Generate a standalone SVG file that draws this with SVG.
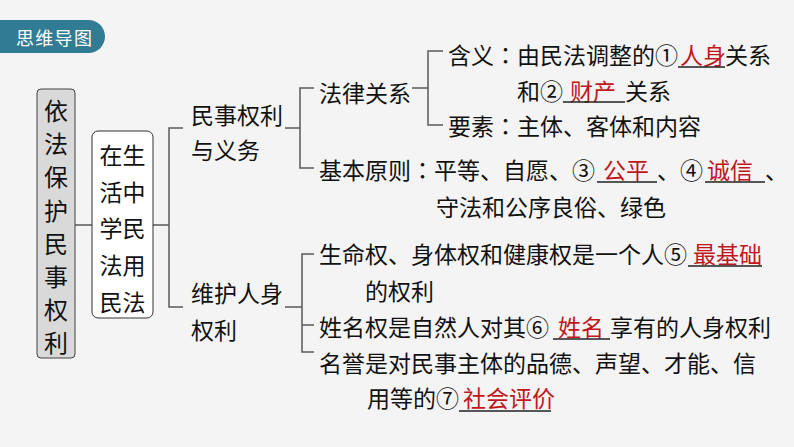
<svg xmlns="http://www.w3.org/2000/svg" width="794" height="447" viewBox="0 0 794 447">
<style>
text{font-family:"Noto Sans CJK SC","Noto Sans",sans-serif;font-size:23px;fill:#111}
.red{fill:#c0161e}
.col{font-family:"Noto Sans CJK TC","Noto Sans CJK SC",sans-serif}
.ul{stroke:#222;stroke-width:1.3;fill:none}
.conn{stroke:#5a5a5a;stroke-width:1.5;fill:none}
.big{font-size:24px}
</style>
<rect x="0" y="0" width="794" height="447" fill="#f4f4f4"/>
<g id="badge">
<path d="M0 20 H88.5 A16.5 16.5 0 0 1 88.5 53 H0 Z" fill="#317c94"/>
<text x="16" y="45" style="font-size:18px;fill:#fff;letter-spacing:1.3px">思维导图</text>
</g>
<g id="connectors" class="conn">
<path d="M75 225 H92"/>
<path d="M153 225 H169"/>
<path d="M183 128 H169 V307 H183"/>
<path d="M285 128 H300"/>
<path d="M314 88 H300 V168 H314"/>
<path d="M412 88 H428"/>
<path d="M443 51 H428 V125 H443"/>
<path d="M285 307 H302"/>
<path d="M314 254 H302 V352 H314"/>
<path d="M302 325 H314"/>
</g>
<g id="root">
<rect x="37" y="89" width="38" height="269" rx="4" fill="#d9d9d9" stroke="#404040" stroke-width="1"/>
<g text-anchor="middle">
<text x="56" y="120" class="big">依</text>
<text x="56" y="153.2" class="big">法</text>
<text x="56" y="186.4" class="big">保</text>
<text x="56" y="219.6" class="big">护</text>
<text x="56" y="252.8" class="big">民</text>
<text x="56" y="286" class="big">事</text>
<text x="56" y="319.2" class="big">权</text>
<text x="56" y="352.4" class="big">利</text>
</g>
</g>
<g id="life">
<rect x="92" y="131" width="61" height="187" rx="6" fill="#fff" stroke="#333" stroke-width="1"/>
<g text-anchor="middle">
<text x="122.5" y="163.7">在生</text>
<text x="122.5" y="200.5">活中</text>
<text x="122.5" y="237.2">学民</text>
<text x="122.5" y="274">法用</text>
<text x="122.5" y="310.7">民法</text>
</g>
</g>
<g id="civil-rights">
<text x="191" y="123.5">民事权利</text>
<text x="191" y="158.5">与义务</text>
</g>
<g id="personal-rights">
<text x="191" y="301.5">维护人身</text>
<text x="191" y="338.5">权利</text>
</g>
<g id="legal-relation">
<text x="319" y="101.5">法律关系</text>
</g>
<g id="meaning">
<text x="448" y="63.5">含义<tspan class="col">：</tspan>由民法调整的①</text>
<text x="680" y="63.5" class="red">人身</text>
<path class="ul" d="M678 67 H725"/>
<text x="725" y="63.5">关系</text>
<text x="517" y="99.5">和②</text>
<text x="570" y="99.5" class="red">财产</text>
<path class="ul" d="M563 102 H625"/>
<text x="625" y="99.5">关系</text>
</g>
<g id="elements">
<text x="448" y="134.5">要素<tspan class="col">：</tspan>主体、客体和内容</text>
</g>
<g id="principles">
<text x="319" y="178.5">基本原则<tspan class="col">：</tspan>平等、自愿、③</text>
<text x="603" y="178.5" class="red">公平</text>
<path class="ul" d="M597 182 H657"/>
<text x="657" y="178.5">、④</text>
<text x="707" y="178.5" class="red">诚信</text>
<path class="ul" d="M705 182 H765"/>
<text x="765" y="178.5">、</text>
<text x="436" y="215.5">守法和公序良俗、绿色</text>
</g>
<g id="life-right">
<text x="319" y="262.5">生命权、身体权和健康权是一个人⑤</text>
<text x="693" y="262.5" class="red">最基础</text>
<path class="ul" d="M688 266 H762"/>
<text x="365" y="300">的权利</text>
</g>
<g id="name-right">
<text x="319" y="336">姓名权是自然人对其⑥</text>
<text x="558" y="336" class="red">姓名</text>
<path class="ul" d="M553 339 H610"/>
<text x="610" y="336">享有的人身权利</text>
</g>
<g id="reputation-right">
<text x="319" y="372">名誉是对民事主体的品德、声望、才能、信</text>
<text x="367" y="407">用等的⑦</text>
<text x="463" y="407" class="red">社会评价</text>
<path class="ul" d="M459 411 H551"/>
</g>
</svg>
